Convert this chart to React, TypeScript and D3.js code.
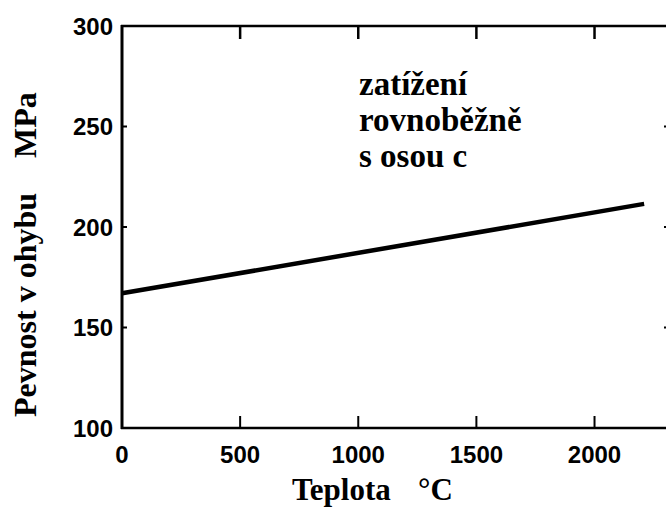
import React from "react";
import * as d3 from "d3";

const xTicks = [0, 500, 1000, 1500, 2000];
const yTicks = [100, 150, 200, 250, 300];
const tempC = [0, 2210];
const strengthMPa = [167, 211.5];
const noteLines = ["zatížení", "rovnoběžně", "s osou c"];
const xTitle = ["Teplota", "°C"];
const yTitle = ["Pevnost v ohybu", "MPa"];

const W = 666;
const H = 510;

export default function App() {
  const x = d3.scaleLinear().domain([0, 2300]).range([122, 665.4]);
  const y = d3.scaleLinear().domain([100, 300]).range([428, 26]);
  const data = tempC.map((t, i) => ({ t, v: strengthMPa[i] }));
  const line = d3
    .line<{ t: number; v: number }>()
    .x((d) => x(d.t))
    .y((d) => y(d.v));

  const left = x(0);
  const bottom = y(100);
  const top = y(300);
  const rightX = 667.5;
  const tickFont = "'Liberation Sans Narrow', 'Liberation Sans', Arial, sans-serif";
  const serif = "'Liberation Serif', 'Times New Roman', serif";

  return (
    <svg
      width={W}
      height={H}
      viewBox={`0 0 ${W} ${H}`}
      style={{ position: "absolute", left: 0, top: 0, background: "#fff" }}
    >
      <rect x={0} y={0} width={W} height={H} fill="#fff" />
      {/* frame */}
      <line x1={left - 1} x2={W + 2} y1={top} y2={top} stroke="#000" strokeWidth={2.5} />
      <line x1={left - 1} x2={W + 2} y1={bottom} y2={bottom} stroke="#000" strokeWidth={2.5} />
      <line x1={left} x2={left} y1={top - 1} y2={bottom + 1} stroke="#000" strokeWidth={3} />
      <line x1={rightX} x2={rightX} y1={top} y2={bottom} stroke="#000" strokeWidth={2} />

      {/* x ticks */}
      {xTicks.filter((t) => t > 0).map((t) => (
        <g key={"xt" + t}>
          <line x1={x(t)} x2={x(t)} y1={bottom} y2={bottom - 12} stroke="#000" strokeWidth={2} />
          <line x1={x(t)} x2={x(t)} y1={top} y2={top + 13} stroke="#000" strokeWidth={2.5} />
        </g>
      ))}
      {/* y ticks */}
      {yTicks.filter((t) => t > 100 && t < 300).map((t) => (
        <g key={"yt" + t}>
          <line x1={left} x2={left + 5} y1={y(t)} y2={y(t)} stroke="#000" strokeWidth={2} />
          <line x1={rightX} x2={rightX - 3.5} y1={y(t)} y2={y(t)} stroke="#000" strokeWidth={2} />
        </g>
      ))}

      {/* tick labels */}
      {xTicks.map((t) => (
        <text
          key={"xl" + t}
          x={x(t)}
          y={463}
          textAnchor="middle"
          fontFamily={tickFont}
          fontWeight="bold"
          fontSize={24}
          fill="#000"
        >
          {t}
        </text>
      ))}
      {yTicks.map((t) => (
        <text
          key={"yl" + t}
          x={113}
          y={y(t)}
          dy="0.36em"
          textAnchor="end"
          fontFamily={tickFont}
          fontWeight="bold"
          fontSize={24}
          fill="#000"
        >
          {t}
        </text>
      ))}

      {/* data line */}
      <path d={line(data) || ""} fill="none" stroke="#000" strokeWidth={4.5} />

      {/* annotation */}
      {noteLines.map((s, i) => (
        <text
          key={"n" + i}
          x={359}
          y={95 + i * 36}
          fontFamily={serif}
          fontWeight="bold"
          fontSize={33}
          fill="#000"
        >
          {s}
        </text>
      ))}

      {/* axis titles */}
      <text y={500} fontFamily={serif} fontWeight="bold" fontSize={31} fill="#000">
        <tspan x={292}>{xTitle[0]}</tspan>
        <tspan x={418}>{xTitle[1]}</tspan>
      </text>
      <g transform="translate(36,0) rotate(-90)">
        <text fontFamily={serif} fontWeight="bold" fontSize={32} fill="#000">
          <tspan x={-417} y={0}>{yTitle[0]}</tspan>
          <tspan x={-158} y={0}>{yTitle[1]}</tspan>
        </text>
      </g>
    </svg>
  );
}
